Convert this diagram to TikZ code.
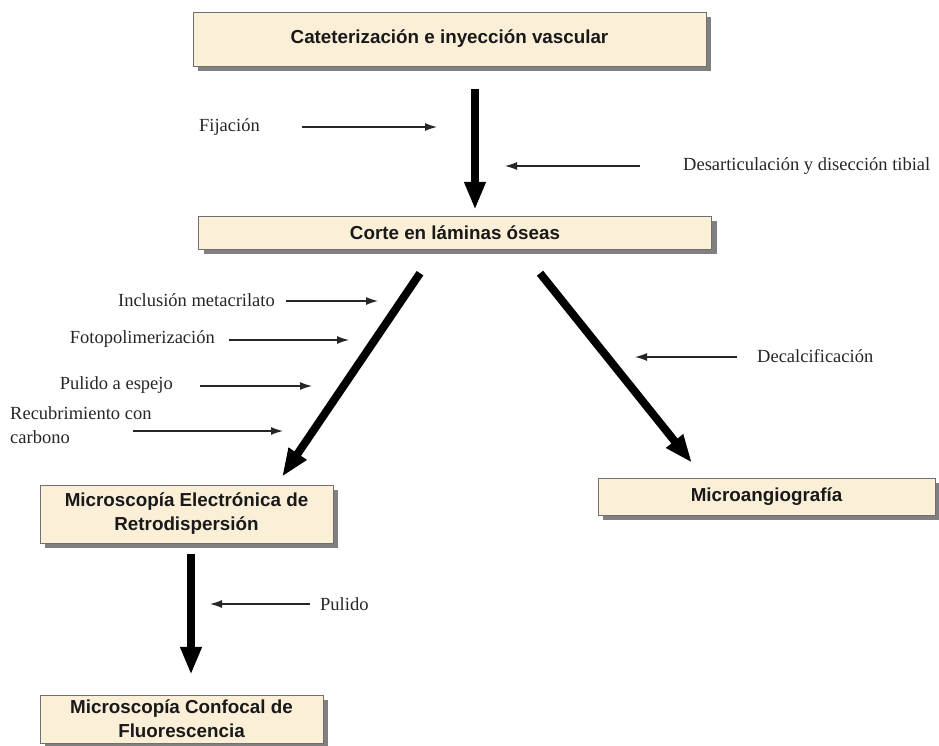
\documentclass[tikz,border=0pt]{standalone}
\usepackage{fontspec}
\setmainfont{Liberation Serif}
\setsansfont{Liberation Sans}
\usepackage{tikz}
\usetikzlibrary{arrows.meta,positioning,shadows}
\definecolor{boxfill}{HTML}{FBEFD8}
\definecolor{boxline}{HTML}{707070}

\begin{document}
\begin{tikzpicture}[x=1pt, y=-1pt,
    box/.style={draw=boxline, fill=boxfill, rectangle, align=center, inner sep=0pt,
        text=black!90, font=\sffamily\bfseries\fontsize{18.8}{24}\selectfont,
        drop shadow={shadow xshift=5pt, shadow yshift=-5pt, fill=black!50, opacity=1}},
    lbl/.style={inner sep=0pt, text=black!85, font=\fontsize{18.5}{24}\selectfont},
    bigarrow/.style={line width=8pt, -{Triangle[length=28pt, width=20pt]}},
    smallarrow/.style={line width=1.2pt, black!85, -{Latex[length=12pt, width=8pt]}}]

    \useasboundingbox (0,0) rectangle (939,745);

    % boxes
    \node[box, minimum width=513pt, minimum height=54pt] (cat) at (449.5,39) {Cateterización e inyección vascular};
    \node[box, minimum width=513pt, minimum height=33pt] (corte) at (455,232.5) {Corte en láminas óseas};
    \node[box, minimum width=293pt, minimum height=58pt] (mee) at (186.5,514) {Microscopía Electrónica de\\Retrodispersión};
    \node[box, minimum width=337pt, minimum height=37pt] (mang) at (766.5,496.5) {Microangiografía};
    \node[box, minimum width=283pt, minimum height=48pt] (mcf) at (181.5,719) {Microscopía Confocal de\\Fluorescencia};

    % main arrows
    \draw[bigarrow] ([shift={(25.5,23)}]cat.south) -- ([shift={(20,-6)}]corte.north);
    \draw[bigarrow] ([shift={(-35,24)}]corte.south) -- ([shift={(95.5,-8)}]mee.north);
    \draw[bigarrow] ([shift={(85,24)}]corte.south) -- ([shift={(-74.5,-15)}]mang.north);
    \draw[bigarrow] ([shift={(4.5,11)}]mee.south) -- ([shift={(9.5,-20)}]mcf.north);

    % labels
    \node[lbl, anchor=east] (fij) at (260,127) {Fijación};
    \node[lbl, anchor=west] (des) at (683,166) {Desarticulación y disección tibial};
    \node[lbl, anchor=east] (incl) at (275,300) {Inclusión metacrilato};
    \node[lbl, anchor=east] (foto) at (215,339) {Fotopolimerización};
    \node[lbl, anchor=east] (pul) at (173,385) {Pulido a espejo};
    \node[lbl, anchor=west, align=left] (rec) at (10,425) {Recubrimiento con\\carbono};
    \node[lbl, anchor=west] (dec) at (757,356) {Decalcificación};
    \node[lbl, anchor=west] (pulido) at (320,604) {Pulido};

    \coordinate (fijt) at (437,127);
    \coordinate (dest) at (505,166);
    \coordinate (inclt) at (378,301);
    \coordinate (fotot) at (349,340);
    \coordinate (pult) at (312,386);
    \coordinate (rect) at (283,431);
    \coordinate (dect) at (635,357);
    \coordinate (pulidot) at (210,604);

    \draw[smallarrow, shorten <=42pt] (fij.east |- fijt) -- (fijt);
    \draw[smallarrow, shorten <=43pt] (des.west |- dest) -- (dest);
    \draw[smallarrow, shorten <=11pt] (incl.east |- inclt) -- (inclt);
    \draw[smallarrow, shorten <=14pt] (foto.east |- fotot) -- (fotot);
    \draw[smallarrow, shorten <=27pt] (pul.east |- pult) -- (pult);
    \draw[smallarrow] ([xshift=123pt]rec.west |- rect) -- (rect);
    \draw[smallarrow, shorten <=20pt] (dec.west |- dect) -- (dect);
    \draw[smallarrow, shorten <=10pt] (pulido.west |- pulidot) -- (pulidot);
\end{tikzpicture}
\end{document}
